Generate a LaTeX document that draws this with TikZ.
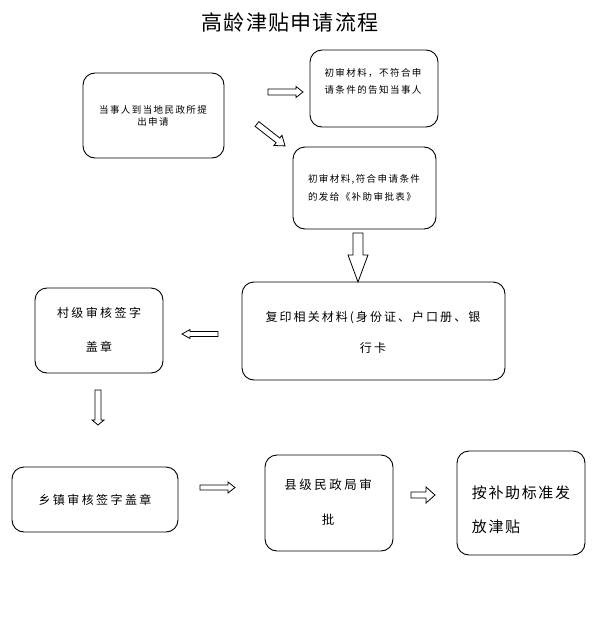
\documentclass[tikz,border=0pt]{standalone}
\usepackage{fontspec}
\setmainfont{Noto Sans CJK SC}
\newcommand{\blkarrow}[7]{% x, y, angle, length, shaft half, head half, head length
  \begin{scope}[shift={(#1,#2)},rotate=#3]
    \draw[arrline] (0,-#5) -- ({#4-#7},-#5) -- ({#4-#7},-#6) -- (#4,0) -- ({#4-#7},#6) -- ({#4-#7},#5) -- (0,#5) -- cycle;
  \end{scope}}
\newcommand{\cjksize}[3]{\fontsize{#1}{#2}\selectfont\addfontfeature{LetterSpace=#3}}
\begin{document}
\begin{tikzpicture}[x=1pt,y=-1pt,
  box/.style={draw=black, line width=0.9pt, rounded corners=12pt, inner sep=0pt},
  txt/.style={inner sep=0pt, text=black},
  arrline/.style={draw=black, line width=0.8pt, fill=white, line join=miter}]
\useasboundingbox[fill=white] (0,0) rectangle (598,632);
% title
\node[txt, font={\cjksize{21}{24}{6}}] (title) at (290,22) {高龄津贴申请流程};
% boxes
\node[box, minimum width=141pt, minimum height=85pt] (A) at (153.5,115.5) {};
\node[box, minimum width=128pt, minimum height=77pt] (B) at (374,88.5) {};
\node[box, minimum width=143pt, minimum height=82pt] (C) at (364.5,188) {};
\node[box, minimum width=263pt, minimum height=98pt] (D) at (373.5,331) {};
\node[box, minimum width=128pt, minimum height=85pt] (E) at (99,330.5) {};
\node[box, minimum width=166pt, minimum height=65pt] (F) at (95,499.5) {};
\node[box, minimum width=128pt, minimum height=96pt] (G) at (329,503) {};
\node[box, minimum width=128pt, minimum height=104pt] (H) at (521,503) {};
% texts
\node[txt, align=center, font={\cjksize{9.5}{12}{15}}] (At) at (153,116) {当事人到当地民政所提\\出申请};
\node[txt, align=center, font={\cjksize{9.5}{17}{15}}] (Bt) at (373,81.5) {初审材料，不符合申\\请条件的告知当事人};
\node[txt, align=left, font={\cjksize{9.5}{18}{15}}] (Ct) at (364,188) {初审材料,符合申请条件\\的发给《补助审批表》};
\node[txt, align=center, font={\cjksize{12}{31}{17}}] (Dt) at (373,332.5) {复印相关材料(身份证、户口册、银\\行卡};
\node[txt, align=center, font={\cjksize{12}{34}{20}}] (Et) at (99,330) {村级审核签字\\盖章};
\node[txt, font={\cjksize{12}{14}{20}}] (Ft) at (95,500) {乡镇审核签字盖章};
\node[txt, align=center, font={\cjksize{12.5}{35}{20}}] (Gt) at (328,502.5) {县级民政局审\\批};
\node[txt, align=left, font={\cjksize{15}{34}{11}}] (Ht) at (521,510) {按补助标准发\\放津贴};
% block arrows
\blkarrow{268}{92}{0}{35}{3}{5.5}{7}
\blkarrow{257}{124}{-38}{35.6}{3}{6.5}{9}
\blkarrow{358}{233}{-90}{49}{5}{10}{27}
\blkarrow{218}{334}{180}{36}{2.5}{4.5}{8}
\blkarrow{98}{390}{-90}{35}{3}{6}{5}
\blkarrow{200}{487.5}{0}{35}{2.5}{5.5}{7}
\blkarrow{411}{495}{0}{24}{3}{8}{9}
\end{tikzpicture}
\end{document}
